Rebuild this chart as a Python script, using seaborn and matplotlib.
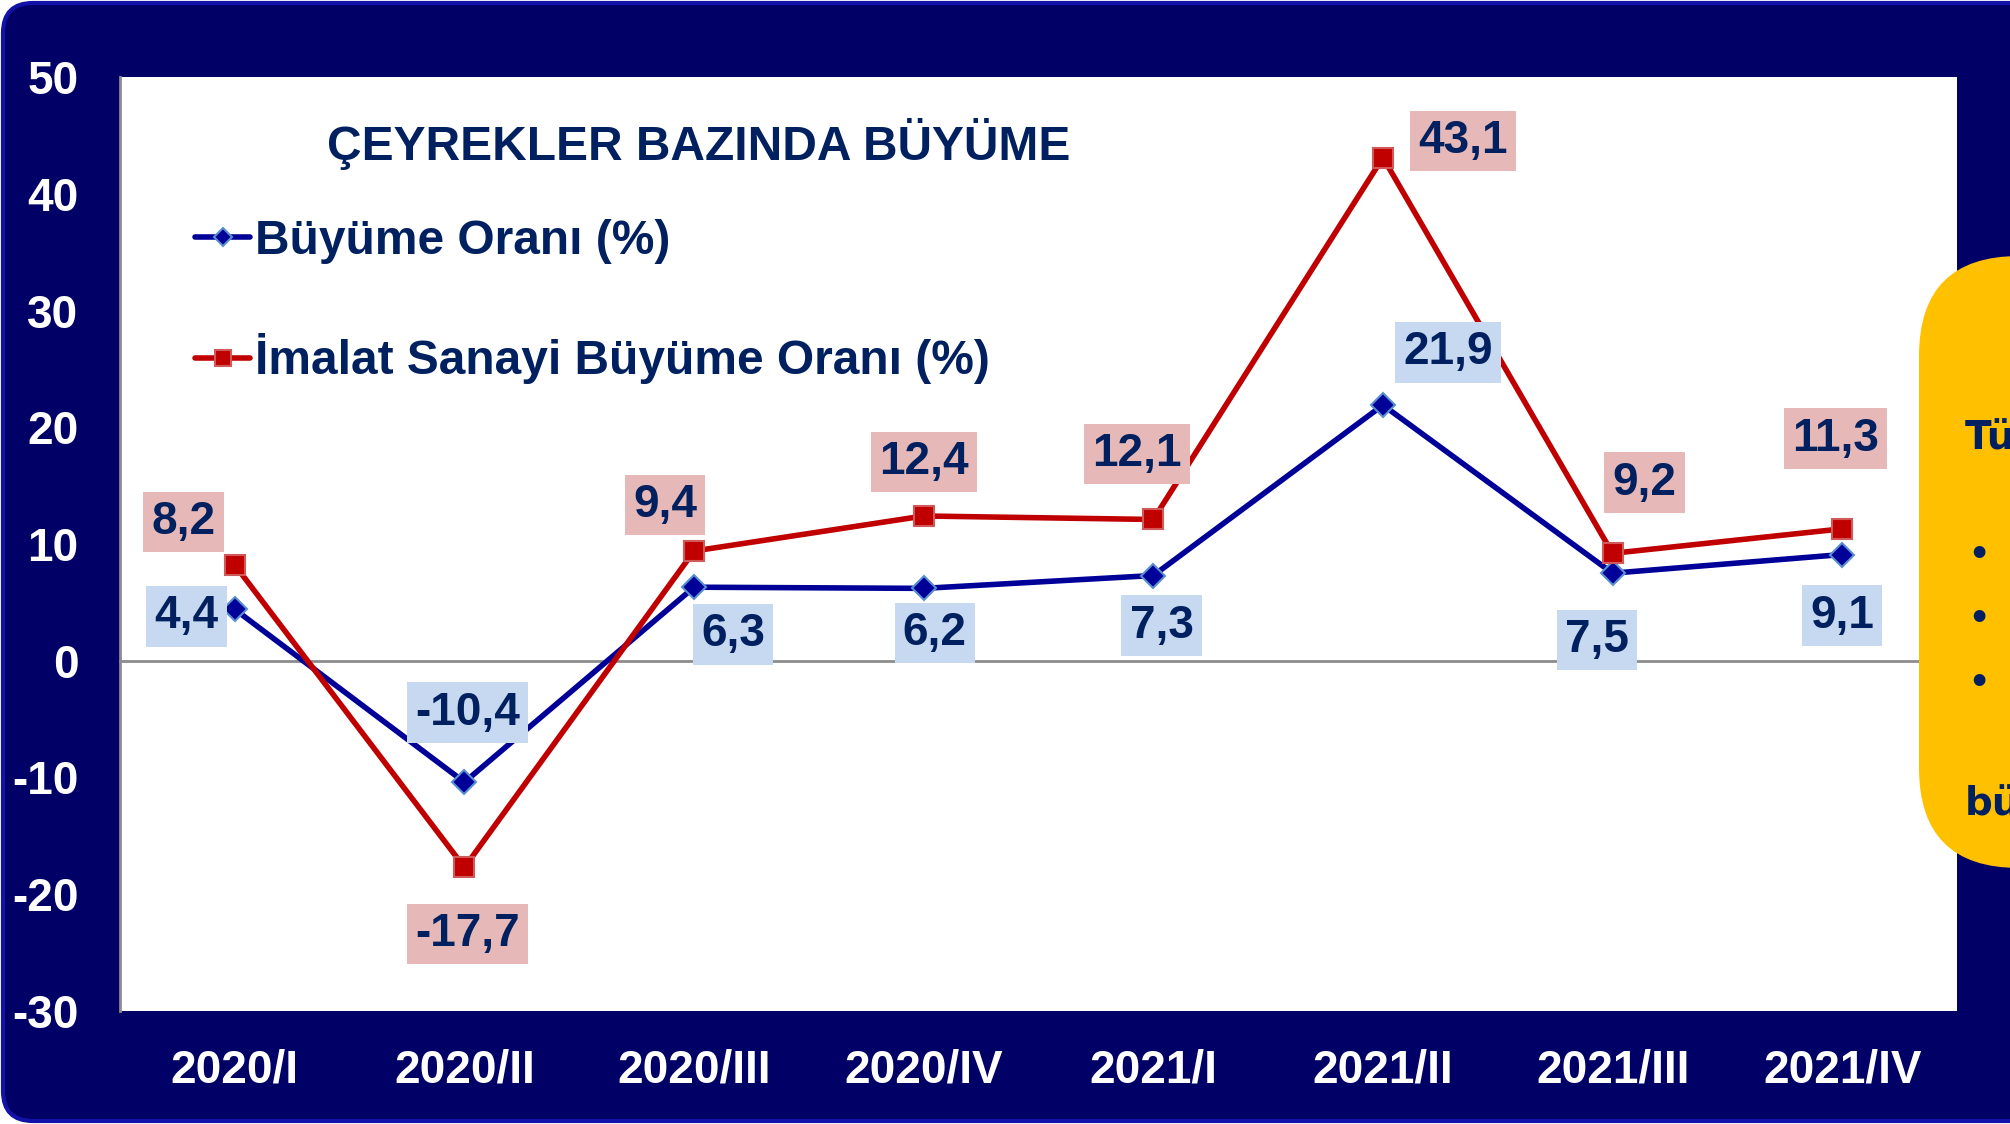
import numpy as np
import pandas as pd
import matplotlib
matplotlib.use("Agg")
import matplotlib.pyplot as plt
from matplotlib.patches import FancyBboxPatch
import seaborn as sns

# --- data ---
quarters = ["2020/I", "2020/II", "2020/III", "2020/IV",
            "2021/I", "2021/II", "2021/III", "2021/IV"]
growth = [4.4, -10.4, 6.3, 6.2, 7.3, 21.9, 7.5, 9.1]
manufacturing = [8.2, -17.7, 9.4, 12.4, 12.1, 43.1, 9.2, 11.3]
y_ticks = [-30, -20, -10, 0, 10, 20, 30, 40, 50]

growth_name = "Büyüme Oranı (%)"
manuf_name = "İmalat Sanayi Büyüme Oranı (%)"
chart_title = "ÇEYREKLER BAZINDA BÜYÜME"

# label placement (offset points from each marker)
growth_offsets = [(-35, -5), (2, 50), (28, -34), (8, -32), (6, -36), (47, 38), (-11, -48), (0, -44)]
manuf_offsets = [(-37, 31), (2, -48), (-21, 33), (0, 39), (-12, 47), (58, 12), (23, 51), (-5, 65)]

NAVY = "#000066"
TEXT = "#002060"
BLUE = "#000099"
RED = "#C00000"
BLUE_BOX = "#C6D9F1"
RED_BOX = "#E6B9B8"
GREY = "#8C8C8C"
FS = 33

sns.set_style("white")
plt.rcParams["font.family"] = ["Liberation Sans", "DejaVu Sans"]
plt.rcParams["axes.unicode_minus"] = False

fig = plt.figure(figsize=(20.1, 11.24), dpi=100, facecolor="white")

# navy rounded panel behind everything
bg = FancyBboxPatch((0.03, 0.03), 21.0, 11.18,
                    boxstyle="round,pad=0,rounding_size=0.3",
                    transform=fig.dpi_scale_trans,
                    fc=NAVY, ec="#1212A8", lw=3, zorder=-10)
fig.add_artist(bg)

ax = fig.add_axes([120 / 2010, 113 / 1124, 1837 / 2010, 934 / 1124])
ax.set_facecolor("white")

df = pd.DataFrame({"pos": np.arange(len(quarters)),
                   "growth": growth,
                   "manufacturing": manufacturing})

sns.lineplot(data=df, x="pos", y="growth", ax=ax, color=BLUE, lw=4,
             marker="D", markersize=12, markerfacecolor=BLUE,
             markeredgecolor="#5B8FD0", markeredgewidth=1.5,
             label=growth_name, zorder=3)
sns.lineplot(data=df, x="pos", y="manufacturing", ax=ax, color=RED, lw=4,
             marker="s", markersize=14, markerfacecolor=RED,
             markeredgecolor="#D05A5A", markeredgewidth=1.5,
             label=manuf_name, zorder=3)

# value labels
def fmt(v):
    return f"{v:.1f}".replace(".", ",")

for i, (v, off) in enumerate(zip(growth, growth_offsets)):
    ax.annotate(fmt(v), xy=(i, v), xytext=off, textcoords="offset points",
                ha="center", va="center", fontsize=FS, fontweight="bold",
                color=TEXT, zorder=4,
                bbox=dict(boxstyle="square,pad=0.18", fc=BLUE_BOX, ec="none"))
for i, (v, off) in enumerate(zip(manufacturing, manuf_offsets)):
    ax.annotate(fmt(v), xy=(i, v), xytext=off, textcoords="offset points",
                ha="center", va="center", fontsize=FS, fontweight="bold",
                color=TEXT, zorder=4,
                bbox=dict(boxstyle="square,pad=0.18", fc=RED_BOX, ec="none"))

# axes styling
ax.set_xlim(-0.5, len(quarters) - 0.5)
ax.set_ylim(y_ticks[0], y_ticks[-1])
ax.set_xlabel("")
ax.set_ylabel("")
ax.set_yticks(y_ticks, labels=[str(t) for t in y_ticks], fontweight="bold")
ax.set_xticks(np.arange(len(quarters) + 1) - 0.5)
ax.set_xticklabels([])
ax.spines["bottom"].set_position(("data", 0))
ax.spines[["top", "right"]].set_visible(False)
for s in ["left", "bottom"]:
    ax.spines[s].set_color(GREY)
    ax.spines[s].set_linewidth(2)
ax.tick_params(axis="x", length=10, width=1.5, color=GREY, direction="out")
ax.tick_params(axis="y", length=10, width=1.5, color=GREY, direction="out",
               labelsize=FS, labelcolor="white", pad=20)

sec = ax.secondary_xaxis("bottom")
sec.set_xticks(np.arange(len(quarters)), labels=quarters, fontweight="bold")
sec.tick_params(length=0, pad=27, labelsize=FS, labelcolor="white")
sec.spines["bottom"].set_visible(False)

# title and legend
ax.text(0.1127, 0.928, chart_title, transform=ax.transAxes, ha="left",
        va="center", fontsize=34.5, fontweight="bold", color=TEXT)
ax.legend(loc="upper left", bbox_to_anchor=(0.041, 0.848), frameon=False,
          prop={"size": 34.5, "weight": "bold"}, labelcolor=TEXT,
          handlelength=1.15, handletextpad=0.1, labelspacing=1.45,
          borderpad=0, borderaxespad=0, markerscale=0.8)

# yellow side panel (cut off at the right edge)
note = FancyBboxPatch((19.19, 2.56), 3.0, 6.12,
                      boxstyle="round,pad=0,rounding_size=1.0",
                      transform=fig.dpi_scale_trans,
                      fc="#FFC000", ec="none", zorder=5)
fig.add_artist(note)
note_font = dict(family=["DejaVu Sans"], fontweight="bold", color=TEXT,
                 transform=fig.dpi_scale_trans, zorder=6, va="center")
fig.text(19.65, 6.86, "Tü", fontsize=28, **note_font)
for yy in [5.69, 5.05, 4.41]:
    fig.text(19.68, yy, "•", fontsize=24, **note_font)
fig.text(19.65, 3.20, "bü", fontsize=28, **note_font)

fig.savefig("out.png", dpi=100, facecolor=fig.get_facecolor())
